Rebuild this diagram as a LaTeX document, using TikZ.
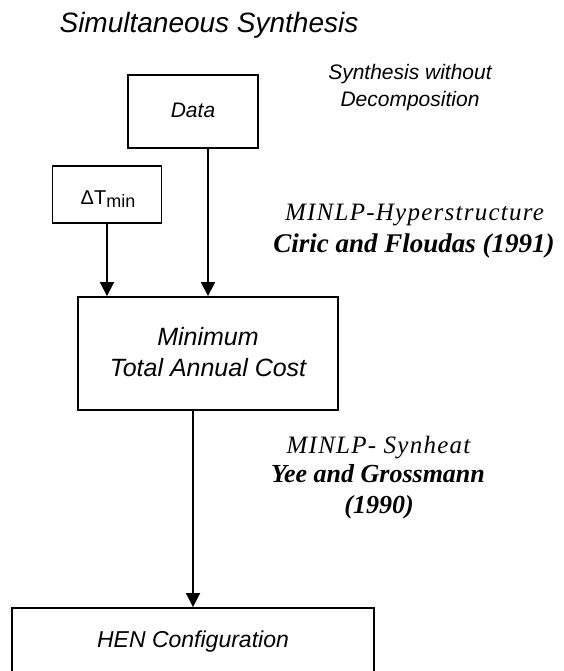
\documentclass[tikz,border=0pt]{standalone}
\usepackage{fontspec}
\setmainfont{Liberation Serif}
\setsansfont{Liberation Sans}
\usetikzlibrary{arrows.meta}
\newcommand{\fs}[1]{\fontsize{#1}{#1}\selectfont}
\begin{document}
\begin{tikzpicture}[x=1pt, y=-1pt,
  box/.style={draw, line width=1.9pt, inner sep=0pt, align=center,
    font=\sffamily\itshape},
  flow/.style={line width=1.9pt, -{Triangle[width=14pt,length=14pt]}},
  sanslabel/.style={anchor=base, inner sep=0pt, font=\sffamily\itshape},
  reflabel/.style={anchor=base, inner sep=0pt, font=\rmfamily\itshape},
  refname/.style={anchor=base, inner sep=0pt, font=\rmfamily\bfseries\itshape}]
\clip (0,0) rectangle (563,671);
\useasboundingbox (0,0) rectangle (563,671);

% heading and side notes
\node[sanslabel] (title) at (209,33) {\fs{28}Simultaneous Synthesis};
\node[sanslabel] (note1) at (410,80) {\fs{21}Synthesis without};
\node[sanslabel] (note2) at (410,107) {\fs{21}Decomposition};

% boxes
\node[box, minimum width=130pt, minimum height=73pt] (data) at (193,111.5) {};
\node[sanslabel] (datatxt) at (193,118) {\fs{21}Data};

\node[box, minimum width=109pt, minimum height=57pt] (dt) at (107,194.5) {};
\node[anchor=base, inner sep=0pt, font=\sffamily] (dttxt) at (108,204)
  {\fs{20}ΔT\raisebox{-3pt}{\fs{18}min}};

\node[box, minimum width=260pt, minimum height=113pt] (cost) at (208,353.5) {};
\node[sanslabel] (cost1) at (208,345) {\fs{25}Minimum};
\node[sanslabel] (cost2) at (208,376) {\fs{25}Total Annual Cost};

\node[box, minimum width=362pt, minimum height=68pt] (hen) at (193,642) {};
\node[sanslabel] (hentxt) at (193,647) {\fs{23}HEN Configuration};

% method references
\node[reflabel] (m1) at (414.5,220)
  {\fs{25}\addfontfeature{LetterSpace=5}MINLP-Hyperstructure};
\node[refname] (r1) at (414,252) {\fs{27}Ciric and Floudas (1991)};
\node[reflabel] (m2) at (378.5,453)
  {\fs{25}\addfontfeature{LetterSpace=5}MINLP- Synheat};
\node[refname] (r2) at (378,482) {\fs{26}Yee and Grossmann};
\node[refname] (r3) at (379,513) {\fs{26}(1990)};

% connectors
\draw[flow] (dt.south) -- (dt.south |- cost.north);
\draw[flow] (cost.north |- data.south) -- (cost.north);
\draw[flow] (hen.north |- cost.south) -- (hen.north);
\end{tikzpicture}
\end{document}
